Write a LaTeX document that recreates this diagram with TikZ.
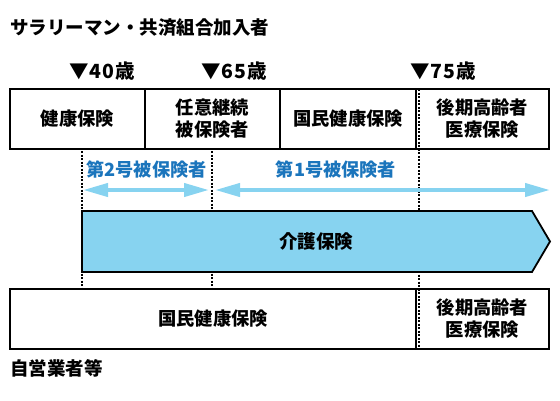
\documentclass[tikz,border=0pt]{standalone}
\usepackage{fontspec}
\setmainfont{Noto Sans CJK JP}
\usetikzlibrary{arrows.meta}
\definecolor{kaigo}{HTML}{87D3F0}
\definecolor{bluetxt}{HTML}{1B75BC}
\begin{document}
\begin{tikzpicture}[x=1pt,y=-1pt,
  box/.style={draw=black,line width=1.8pt,minimum height=60pt,inner sep=0pt,align=center,font=\fontsize{18.3}{22}\selectfont\bfseries},
  lbl/.style={inner sep=0pt,font=\fontsize{18.5}{22}\selectfont\bfseries},
  agelbl/.style={inner sep=0pt,font=\fontsize{19.5}{22}\selectfont\bfseries\addfontfeature{LetterSpace=6}},
  blbl/.style={inner sep=0pt,text=bluetxt,font=\fontsize{18.2}{22}\selectfont\bfseries},
  dots/.style={line width=1.4pt,dash pattern=on 2pt off 1.5pt},
  biarrow/.style={draw=kaigo,line width=4pt,{Triangle[length=25pt,width=13pt]}-{Triangle[length=25pt,width=13pt]}}]
\useasboundingbox (0,0) rectangle (560,400);
% labels
\node[lbl,anchor=west] (title) at (10,27.5) {サラリーマン・共済組合加入者};
\node[agelbl,anchor=west] (a40) at (69,71) {▼40歳};
\node[agelbl,anchor=west] (a65) at (201,71) {▼65歳};
\node[agelbl,anchor=west] (a75) at (410,71) {▼75歳};
\node[lbl,anchor=west] (self) at (10,368) {自営業者等};
% dotted guides
\coordinate (d1t) at (82,151); \coordinate (d1b) at (82,289);
\coordinate (d2t) at (212,151); \coordinate (d2b) at (212,289);
\coordinate (d3t) at (419,89); \coordinate (d3b) at (419,349);
\draw[dots] (d1t) -- (d1b);
\draw[dots] (d2t) -- (d2b);
% top row
\node[box,minimum width=135pt] (b1) at (77.5,119) {健康保険};
\node[box,minimum width=135pt] (b2) at (212.5,119) {任意継続\\被保険者};
\node[box,minimum width=136pt] (b3) at (348,119) {国民健康保険};
\node[box,minimum width=133pt] (b4) at (482.5,119) {後期高齢者\\医療保険};
% bottom row
\node[box,minimum width=406pt] (c1) at (213,319) {国民健康保険};
\node[box,minimum width=133pt] (c2) at (482.5,319) {後期高齢者\\医療保険};
\draw[dots] (d3t) -- (d3b);
% blue labels and arrows
\node[blbl] (n2) at (146.5,170) {第2号被保険者};
\node[blbl] (n1) at (336,170) {第1号被保険者};
\coordinate (r1l) at (83,190); \coordinate (r1r) at (209,190);
\coordinate (r2l) at (215,190); \coordinate (r2r) at (550,190);
\draw[biarrow] (r1l) -- (r1r);
\draw[biarrow] (r2l) -- (r2r);
% kaigo pentagon
\draw[fill=kaigo,line width=1.8pt,line join=miter] (82,211) -- (532,211) -- (550,241.5) -- (532,272) -- (82,272) -- cycle;
\node[lbl] (kaigo) at (316,241.5) {介護保険};
\end{tikzpicture}
\end{document}
